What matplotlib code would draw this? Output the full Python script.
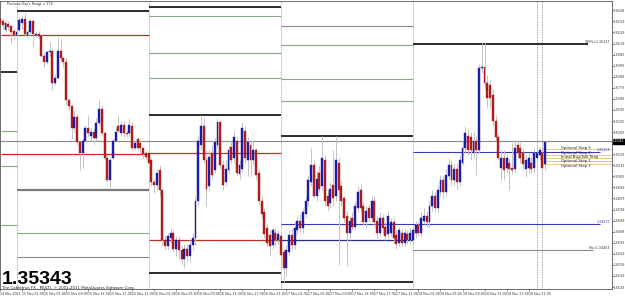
import matplotlib
matplotlib.use("Agg")
import matplotlib.pyplot as plt
from matplotlib.transforms import blended_transform_factory

# ---------------- data (EURUSD-like M30 candles) ----------------
open_ = [1.3634,1.3632,1.3625,1.3630,1.3628,1.3624,1.3621,1.3625,1.3631,1.3634,
         1.3621,1.3623,1.3632,1.3621,1.3622,1.3620,1.3604,1.3599,1.3607,1.3608,
         1.3582,1.3586,1.3608,1.3602,1.3599,1.3568,1.3563,1.3545,1.3554,1.3534,
         1.3525,1.3535,1.3545,1.3539,1.3542,1.3537,1.3549,1.3561,1.3541,1.3521,
         1.3503,1.3521,1.3535,1.3547,1.3541,1.3548,1.3541,1.3541,1.3547,1.3529,
         1.3536,1.3533,1.3529,1.3525,1.3525,1.3519,1.3501,1.3499,1.3511,1.3495,
         1.3454,1.3449,1.3456,1.3460,1.3447,1.3454,1.3446,1.3439,1.3447,1.3441,
         1.3450,1.3456,1.3486,1.3531,1.3547,1.3519,1.3498,1.3525,1.3511,1.3531,
         1.3550,1.3515,1.3501,1.3511,1.3530,1.3521,1.3535,1.3508,1.3512,1.3543,
         1.3519,1.3531,1.3519,1.3527,1.3509,1.3486,1.3477,1.3464,1.3458,1.3450,
         1.3460,1.3454,1.3457,1.3444,1.3431,1.3444,1.3458,1.3450,1.3462,1.3470,
         1.3464,1.3475,1.3486,1.3501,1.3515,1.3490,1.3509,1.3498,1.3519,1.3490,
         1.3484,1.3499,1.3490,1.3517,1.3498,1.3488,1.3474,1.3460,1.3472,1.3465,
         1.3480,1.3495,1.3482,1.3469,1.3480,1.3472,1.3486,1.3470,1.3460,1.3472,
         1.3465,1.3459,1.3460,1.3469,1.3458,1.3452,1.3460,1.3452,1.3459,1.3454,
         1.3454,1.3460,1.3466,1.3460,1.3470,1.3474,1.3469,1.3482,1.3490,1.3480,
         1.3493,1.3503,1.3493,1.3506,1.3515,1.3503,1.3512,1.3501,1.3517,1.3529,
         1.3539,1.3538,1.3525,1.3535,1.3527,1.3594,1.3595,1.3582,1.3580,1.3572,
         1.3551,1.3538,1.3513,1.3521,1.3513,1.3517,1.3513,1.3512,1.3531,1.3529,
         1.3525,1.3512,1.3513,1.3517,1.3513,1.3521,1.3523,1.3525,1.3516]
high = [1.3637,1.3634,1.3633,1.3632,1.3629,1.3626,1.3627,1.3635,1.3637,1.3639,
        1.3625,1.3634,1.3634,1.3624,1.3624,1.3622,1.3606,1.3608,1.3615,1.3610,
        1.3588,1.3619,1.3618,1.3603,1.3602,1.3570,1.3564,1.3560,1.3557,1.3535,
        1.3537,1.3548,1.3556,1.3545,1.3545,1.3553,1.3568,1.3564,1.3543,1.3523,
        1.3521,1.3537,1.3545,1.3556,1.3551,1.3551,1.3543,1.3553,1.3550,1.3535,
        1.3538,1.3537,1.3530,1.3527,1.3527,1.3521,1.3504,1.3512,1.3515,1.3496,
        1.3458,1.3460,1.3464,1.3462,1.3457,1.3457,1.3450,1.3451,1.3451,1.3454,
        1.3460,1.3490,1.3539,1.3556,1.3553,1.3527,1.3527,1.3531,1.3537,1.3553,
        1.3551,1.3519,1.3519,1.3531,1.3535,1.3543,1.3539,1.3519,1.3550,1.3547,
        1.3538,1.3535,1.3535,1.3529,1.3512,1.3490,1.3480,1.3467,1.3462,1.3465,
        1.3464,1.3462,1.3460,1.3447,1.3450,1.3462,1.3464,1.3469,1.3474,1.3475,
        1.3480,1.3490,1.3506,1.3529,1.3519,1.3511,1.3515,1.3539,1.3523,1.3495,
        1.3501,1.3527,1.3539,1.3521,1.3503,1.3490,1.3478,1.3474,1.3477,1.3486,
        1.3498,1.3499,1.3486,1.3482,1.3483,1.3490,1.3490,1.3474,1.3477,1.3475,
        1.3469,1.3478,1.3472,1.3472,1.3462,1.3465,1.3464,1.3464,1.3462,1.3464,
        1.3465,1.3470,1.3470,1.3477,1.3480,1.3478,1.3486,1.3495,1.3493,1.3499,
        1.3507,1.3506,1.3512,1.3521,1.3519,1.3517,1.3516,1.3523,1.3535,1.3547,
        1.3545,1.3542,1.3543,1.3539,1.3597,1.3614,1.3614,1.3588,1.3584,1.3577,
        1.3556,1.3541,1.3527,1.3527,1.3525,1.3521,1.3533,1.3534,1.3535,1.3534,
        1.3529,1.3523,1.3525,1.3522,1.3529,1.3529,1.3530,1.3527,1.3535]
low = [1.3629,1.3626,1.3623,1.3625,1.3614,1.3618,1.3616,1.3623,1.3626,1.3621,
       1.3619,1.3621,1.3612,1.3619,1.3618,1.3603,1.3595,1.3597,1.3604,1.3576,
       1.3580,1.3585,1.3600,1.3595,1.3564,1.3560,1.3536,1.3542,1.3531,1.3511,
       1.3513,1.3534,1.3539,1.3535,1.3531,1.3535,1.3547,1.3539,1.3519,1.3501,
       1.3496,1.3519,1.3534,1.3542,1.3539,1.3538,1.3538,1.3539,1.3527,1.3527,
       1.3527,1.3525,1.3521,1.3519,1.3515,1.3498,1.3492,1.3495,1.3490,1.3450,
       1.3446,1.3446,1.3452,1.3444,1.3441,1.3439,1.3434,1.3431,1.3436,1.3436,
       1.3446,1.3450,1.3482,1.3527,1.3517,1.3482,1.3495,1.3504,1.3509,1.3529,
       1.3512,1.3495,1.3498,1.3508,1.3517,1.3517,1.3506,1.3504,1.3509,1.3517,
       1.3506,1.3506,1.3515,1.3504,1.3483,1.3472,1.3456,1.3449,1.3441,1.3447,
       1.3449,1.3451,1.3436,1.3420,1.3425,1.3441,1.3446,1.3447,1.3458,1.3460,
       1.3460,1.3472,1.3482,1.3498,1.3488,1.3486,1.3493,1.3495,1.3482,1.3478,
       1.3480,1.3482,1.3486,1.3434,1.3482,1.3469,1.3433,1.3454,1.3462,1.3462,
       1.3477,1.3477,1.3466,1.3464,1.3469,1.3469,1.3465,1.3456,1.3457,1.3460,
       1.3454,1.3456,1.3457,1.3452,1.3447,1.3449,1.3449,1.3449,1.3451,1.3451,
       1.3450,1.3456,1.3457,1.3457,1.3467,1.3465,1.3465,1.3478,1.3477,1.3477,
       1.3490,1.3488,1.3490,1.3503,1.3499,1.3499,1.3495,1.3498,1.3515,1.3525,
       1.3523,1.3519,1.3521,1.3507,1.3525,1.3590,1.3577,1.3562,1.3562,1.3547,
       1.3535,1.3519,1.3503,1.3503,1.3509,1.3495,1.3508,1.3509,1.3521,1.3517,
       1.3512,1.3505,1.3509,1.3509,1.3509,1.3517,1.3519,1.3499,1.3511]
close = [1.3631,1.3629,1.3631,1.3627,1.3623,1.3621,1.3623,1.3633,1.3634,1.3622,
         1.3623,1.3632,1.3622,1.3622,1.3620,1.3604,1.3599,1.3607,1.3608,1.3582,
         1.3586,1.3608,1.3602,1.3599,1.3568,1.3563,1.3545,1.3554,1.3534,1.3525,
         1.3535,1.3545,1.3541,1.3542,1.3537,1.3549,1.3561,1.3541,1.3521,1.3503,
         1.3519,1.3535,1.3542,1.3543,1.3548,1.3541,1.3540,1.3548,1.3529,1.3533,
         1.3529,1.3529,1.3524,1.3522,1.3517,1.3501,1.3499,1.3509,1.3495,1.3454,
         1.3449,1.3457,1.3460,1.3447,1.3454,1.3446,1.3439,1.3447,1.3441,1.3450,
         1.3456,1.3486,1.3535,1.3547,1.3519,1.3496,1.3522,1.3507,1.3534,1.3550,
         1.3515,1.3499,1.3512,1.3527,1.3519,1.3538,1.3509,1.3515,1.3545,1.3521,
         1.3534,1.3519,1.3527,1.3507,1.3486,1.3475,1.3459,1.3452,1.3449,1.3462,
         1.3454,1.3459,1.3442,1.3431,1.3446,1.3458,1.3450,1.3464,1.3470,1.3464,
         1.3477,1.3486,1.3503,1.3515,1.3490,1.3504,1.3496,1.3521,1.3486,1.3482,
         1.3496,1.3488,1.3519,1.3495,1.3486,1.3472,1.3460,1.3470,1.3465,1.3482,
         1.3493,1.3480,1.3469,1.3478,1.3472,1.3486,1.3469,1.3460,1.3472,1.3464,
         1.3457,1.3474,1.3469,1.3456,1.3451,1.3462,1.3452,1.3460,1.3454,1.3460,
         1.3462,1.3466,1.3460,1.3472,1.3474,1.3469,1.3482,1.3490,1.3480,1.3495,
         1.3503,1.3493,1.3507,1.3515,1.3503,1.3512,1.3501,1.3519,1.3529,1.3541,
         1.3527,1.3527,1.3535,1.3527,1.3594,1.3595,1.3582,1.3570,1.3570,1.3551,
         1.3538,1.3521,1.3521,1.3511,1.3521,1.3512,1.3511,1.3529,1.3525,1.3521,
         1.3516,1.3519,1.3521,1.3512,1.3525,1.3525,1.3527,1.3513,1.3534]

last_price = 1.35343

time_labels = ["14 Nov 2011", "15 Nov 01:00", "15 Nov 05:00", "15 Nov 09:00", "15 Nov 13:00",
               "15 Nov 17:00", "15 Nov 21:00", "16 Nov 01:00", "16 Nov 05:00", "16 Nov 09:00",
               "16 Nov 13:00", "16 Nov 17:00", "16 Nov 21:00", "17 Nov 01:00", "17 Nov 05:00",
               "17 Nov 09:00", "17 Nov 13:00", "17 Nov 17:00", "17 Nov 21:00", "18 Nov 01:00",
               "18 Nov 05:00", "18 Nov 09:00", "18 Nov 13:00", "18 Nov 17:00", "18 Nov 21:00"]
label_bars = [0, 8, 16, 24, 32, 40, 48, 56, 64, 72, 80, 88, 96, 104, 112, 120, 128,
              136, 144, 152, 160, 168, 176, 184, 192]

price_ticks = [1.36409, 1.36319, 1.36229, 1.36139, 1.36049, 1.35959, 1.35869, 1.35779,
               1.35689, 1.35599, 1.35509, 1.35419, 1.35239, 1.35149, 1.35059, 1.34969,
               1.34879, 1.34789, 1.34699, 1.34609, 1.34519, 1.34429, 1.34339, 1.34249,
               1.34159]

day_start_bars = [6, 54, 102, 150]
marker_bars = [195.2, 197.0]

# horizontal level lines: price, first bar, last bar, kind
level_price = [1.3591, 1.3543, 1.3514, 1.3466,
               1.3621, 1.3524,
               1.3640, 1.3495, 1.3460, 1.3440,
               1.3644, 1.3636, 1.3606, 1.3586, 1.3556, 1.3525, 1.3454, 1.3427,
               1.3628, 1.3613, 1.3585, 1.3567, 1.3539, 1.3454, 1.3420,
               1.34675,
               1.36137, 1.35258, 1.34463]
level_from = [0.5, 0.5, 0.5, 0.5,
              0.5, 0.5,
              6, 6, 6, 6,
              54, 54, 54, 54, 54, 54, 54, 54,
              102, 102, 102, 102, 102, 102, 102,
              102,
              150, 150, 150]
level_to = [6, 6, 6, 6,
            54, 54,
            54, 54, 54, 54,
            102, 102, 102, 102, 102, 102, 102, 102,
            150, 150, 150, 150, 150, 150, 150,
            218,
            213.6, 218, 215.4]
level_kind = ["black", "green", "green", "green",
              "red", "red",
              "black", "gray2", "green", "gray",
              "black", "green", "green", "green", "black", "red", "red", "black",
              "gray", "green", "green", "green", "black", "navy", "black",
              "blue",
              "black", "blue", "gray"]

fib_labels = ["100%=1.36137", "0%=1.34463"]
fib_prices = [1.36137, 1.34463]

stop_names = ["Optional Stop 3", "Optional Stop 2", "Initial Buy/Sell Stop",
              "Optional Stop 1", "Optional Stop 2"]
stop_prices = [1.3528, 1.3523, 1.3521, 1.3518, 1.3516]

# ---------------- drawing ----------------
W, H = 625, 296
fig = plt.figure(figsize=(W / 100, H / 100), dpi=100)
fig.patch.set_facecolor("white")
ax = fig.add_axes([0, 1 - 289 / H, 612 / W, 288 / H])
ax.set_facecolor("white")

n = len(open_)
xs = list(range(n))

styles = {
    "black": dict(color="#1a1a1a", lw=1.3),
    "gray": dict(color="#8c8c8c", lw=0.8),
    "gray2": dict(color="#7a7a7a", lw=1.6),
    "green": dict(color="#86a886", lw=0.8),
    "red": dict(color="#c0302a", lw=0.9),
    "blue": dict(color="#3a3ab8", lw=0.8),
    "navy": dict(color="#2a2a80", lw=0.9),
}
for p, a, b, k in zip(level_price, level_from, level_to, level_kind):
    ax.hlines(p, a, b, zorder=1, **styles[k])

# current price line across full width
ax.axhline(last_price, color="#8a8a8a", lw=0.8, zorder=1)

# stop lines
for p in stop_prices:
    ax.hlines(p, 197, 223, color="#e6c98e", lw=0.7, zorder=1)

# day separators
for b in day_start_bars:
    ax.axvline(b, color="#9a9a9a", lw=0.6, ls=(0, (1, 1)), zorder=0.5)
for b in marker_bars:
    ax.axvline(b, color="#8a8a8a", lw=0.6, ls=(0, (1, 1)), zorder=0.5)

# candles
ax.vlines(xs, low, high, color="#c4c4c4", lw=0.7, zorder=2)
body_col = ["#1c1ca8" if c > o else ("#b01c1c" if c < o else "#000000")
            for o, c in zip(open_, close)]
heights = [c - o for o, c in zip(open_, close)]
ax.bar(xs, heights, bottom=open_, width=0.7, color=body_col,
       edgecolor=body_col, linewidth=0.3, zorder=3)

ax.set_xlim(0.565, 222.3)
ax.set_ylim(1.34143, 1.36485)

# texts on levels
small = dict(fontsize=2.3, family="DejaVu Sans")
for t, p in zip(fib_labels, fib_prices):
    ax.text(221.6, p, t, ha="right", va="bottom", color="#333333", **small)
for p, k in zip(level_price, level_kind):
    if k == "blue":
        ax.text(221.6, p, f"{p:.5f}", ha="right", va="bottom", color="#3a3ab8", **small)

# stop labels: stacked one text line apart, starting at the top stop line
px = (1.36485 - 1.34143) / 288.0
for i, t in enumerate(stop_names):
    ax.text(203.8, stop_prices[0] + px - i * 4.4 * px, t, ha="left", va="center",
            color="#222222", fontsize=2.7)

# axes styling
ax.yaxis.tick_right()
ax.set_yticks(price_ticks)
ax.set_yticklabels([f"{v:.5f}" for v in price_ticks])
ax.set_xticks(label_bars)
ax.set_xticklabels(time_labels)
for lbl in ax.get_xticklabels():
    lbl.set_ha("left")
ax.tick_params(axis="y", labelsize=1.95, length=1.2, width=0.4, pad=0.3, colors="#333333")
ax.tick_params(axis="x", labelsize=2.3, length=1.5, width=0.4, pad=0.6, colors="#333333")
for s in ax.spines.values():
    s.set_color("#555555")
    s.set_linewidth(0.6)

# current price box on the axis
ax.text(1.002, last_price, f"{last_price:.5f}",
        transform=blended_transform_factory(ax.transAxes, ax.transData),
        ha="left", va="center", fontsize=1.95, color="white",
        bbox=dict(facecolor="black", edgecolor="black", pad=0.4), clip_on=False)

# overlay texts
fig.text(7 / W, 1 - 3.5 / H, "Previous Day's Range = 174", fontsize=2.3,
         color="#333333", va="center", ha="left")
fig.text(2 / W, 1 - 284 / H, "1.35343", fontsize=14, fontweight="bold",
         family="Liberation Sans", color="black", va="baseline", ha="left")
fig.text(2 / W, 1 - 289.5 / H,
         "The Cabletrue FX - MULTI, \u00a9 2001-2011 MetaQuotes Software Corp.",
         fontsize=2.8, color="#222222", va="baseline", ha="left")

fig.savefig("out.png", dpi=100, facecolor="white")
